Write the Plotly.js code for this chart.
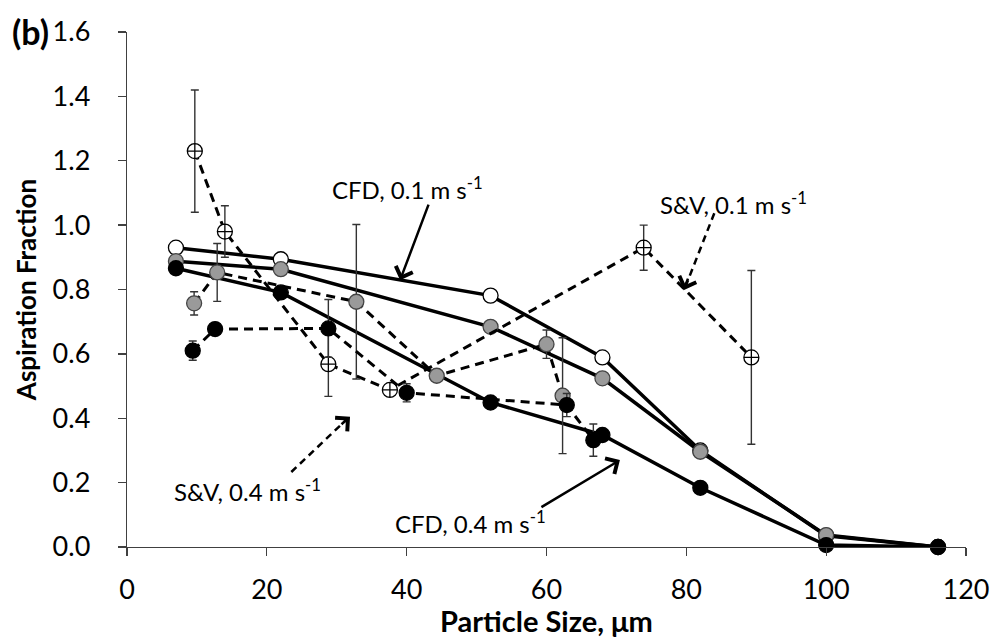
<!DOCTYPE html>
<html>
<head>
<meta charset="utf-8">
<script src="https://cdn.plot.ly/plotly-3.0.1.min.js"></script>
<style>html,body{margin:0;padding:0;background:#fff;}#chart{width:993px;height:643px;}</style>
</head>
<body>
<div id="chart"></div>
<script>
// CFD model results
const cfdX   = [7, 22, 52, 68, 82, 100, 116];
const cfd01  = [0.93, 0.894, 0.781, 0.589, 0.30, 0.035, 0.0];
const cfd02  = [0.888, 0.863, 0.684, 0.524, 0.296, 0.037, 0.0];
const cfd04  = [0.866, 0.791, 0.449, 0.348, 0.184, 0.006, 0.0];

// S&V experimental data
const svX01  = [9.7, 14, 28.8, 37.6, 73.9, 89.3];
const sv01   = [1.23, 0.98, 0.568, 0.488, 0.93, 0.589];
const sv01E  = [0.19, 0.08, 0.10, 0.01, 0.07, 0.27];

const svX02  = [9.6, 12.9, 32.8, 44.3, 60.0, 62.3];
const sv02   = [0.757, 0.853, 0.762, 0.532, 0.63, 0.47];
const sv02E  = [0.036, 0.09, 0.24, 0.0, 0.044, 0.18];

const svX04  = [9.4, 12.6, 28.8, 40.0, 62.9, 66.7];
const sv04   = [0.61, 0.677, 0.679, 0.479, 0.441, 0.332];
const sv04E  = [0.03, 0.0, 0.09, 0.028, 0.036, 0.05];

const xTicks = [0, 20, 40, 60, 80, 100, 120];
const yTicks = [0, 0.2, 0.4, 0.6, 0.8, 1.0, 1.2, 1.4, 1.6];
const yTickText = yTicks.map(v => v.toFixed(1));

const FONT = 'Lato, "Open Sans", sans-serif';
const GRAY = '#9a9a9a';

function cfdTrace(y, fill, lineCol) {
  return {x: cfdX, y: y, type: 'scatter', mode: 'lines+markers', cliponaxis: false,
    line: {color: '#000', width: 3.5},
    marker: {symbol: 'circle', size: 15, color: fill, line: {color: lineCol, width: 1.3}}};
}
function svTrace(x, y, e, symbol, fill, lineCol) {
  return {x: x, y: y, type: 'scatter', mode: 'lines+markers', cliponaxis: false,
    line: {color: '#000', width: 3, dash: '9px,6px'},
    error_y: {type: 'data', array: e, visible: true, color: '#333', thickness: 1.4, width: 4},
    marker: {symbol: symbol, size: 15, color: fill, line: {color: lineCol, width: 1.3}}};
}

const data = [
  cfdTrace(cfd01, '#fff', '#000'),
  cfdTrace(cfd02, GRAY, '#444'),
  cfdTrace(cfd04, '#000', '#000'),
  svTrace(svX01, sv01, sv01E, 'circle-cross', '#fff', '#000'),
  svTrace(svX02, sv02, sv02E, 'circle', GRAY, '#444'),
  svTrace(svX04, sv04, sv04E, 'circle', '#000', '#000')
];

const txt = (x, y, t) => ({x: x, y: y, xref: 'x', yref: 'y', text: t, showarrow: false,
  font: {family: FONT, size: 24, color: '#000'}, xanchor: 'center', yanchor: 'middle'});
const arr = (x, y, ax, ay) => ({x: x, y: y, xref: 'x', yref: 'y', ax: ax, ay: ay, text: '',
  showarrow: true, arrowhead: 4, arrowsize: 1.4, arrowwidth: 2.5, arrowcolor: '#000'});

const layout = {
  width: 993, height: 643,
  margin: {l: 127, r: 27, t: 32, b: 96},
  paper_bgcolor: '#fff', plot_bgcolor: '#fff',
  showlegend: false,
  font: {family: FONT, color: '#000'},
  xaxis: {
    range: [0, 120], tickvals: xTicks, ticktext: xTicks.map(String),
    showgrid: false, zeroline: false, showline: true, linecolor: '#404040', linewidth: 1.3,
    ticks: 'outside', ticklen: 8, tickcolor: '#404040', tickwidth: 1.3,
    tickfont: {family: FONT, size: 27, color: '#000'}, ticklabelstandoff: 10
  },
  yaxis: {
    range: [0, 1.6], tickvals: yTicks, ticktext: yTickText,
    showgrid: false, zeroline: false, showline: true, linecolor: '#404040', linewidth: 1.3,
    ticks: 'outside', ticklen: 8, tickcolor: '#404040', tickwidth: 1.3,
    tickfont: {family: FONT, size: 27, color: '#000'}, ticklabelstandoff: 22,
    title: {text: 'Aspiration Fraction', font: {family: FONT, size: 26, color: '#000', weight: 'bold'}, standoff: 8}
  },
  shapes: [
    {type: 'line', xref: 'x', yref: 'y', x0: 84.0, y0: 1.037, x1: 79.9, y1: 0.81,
     line: {color: '#000', width: 2.5, dash: '7px,5px'}},
    {type: 'line', xref: 'x', yref: 'y', x0: 23.5, y0: 0.233, x1: 31.6, y1: 0.40,
     line: {color: '#000', width: 2.5, dash: '7px,5px'}}
  ],
  annotations: [
    txt(40.06, 1.115, 'CFD, 0.1 m s<sup>-1</sup>'),
    txt(86.7, 1.069, 'S&V, 0.1 m s<sup>-1</sup>'),
    txt(17.3, 0.177, 'S&V, 0.4 m s<sup>-1</sup>'),
    txt(49.1, 0.078, 'CFD, 0.4 m s<sup>-1</sup>'),
    arr(39.06, 0.829, 29, -77),
    arr(70.5, 0.270, -80, 48),
    arr(79.6, 0.798, 5, -13),
    arr(31.9, 0.405, -10, 9),
    {x: 0.5, y: 0, xref: 'paper', yref: 'paper', yshift: -73, text: '<b>Particle Size, μm</b>', showarrow: false,
     font: {family: FONT, size: 29, color: '#000'}, xanchor: 'center', yanchor: 'middle'},
    {x: 0, y: 1, xref: 'paper', yref: 'paper', xshift: -97, yshift: 1, text: '<b>(b)</b>', showarrow: false,
     font: {family: FONT, size: 34, color: '#000'}, xanchor: 'center', yanchor: 'middle'}
  ]
};

Plotly.newPlot('chart', data, layout, {displayModeBar: false, staticPlot: true});
</script>
</body>
</html>
